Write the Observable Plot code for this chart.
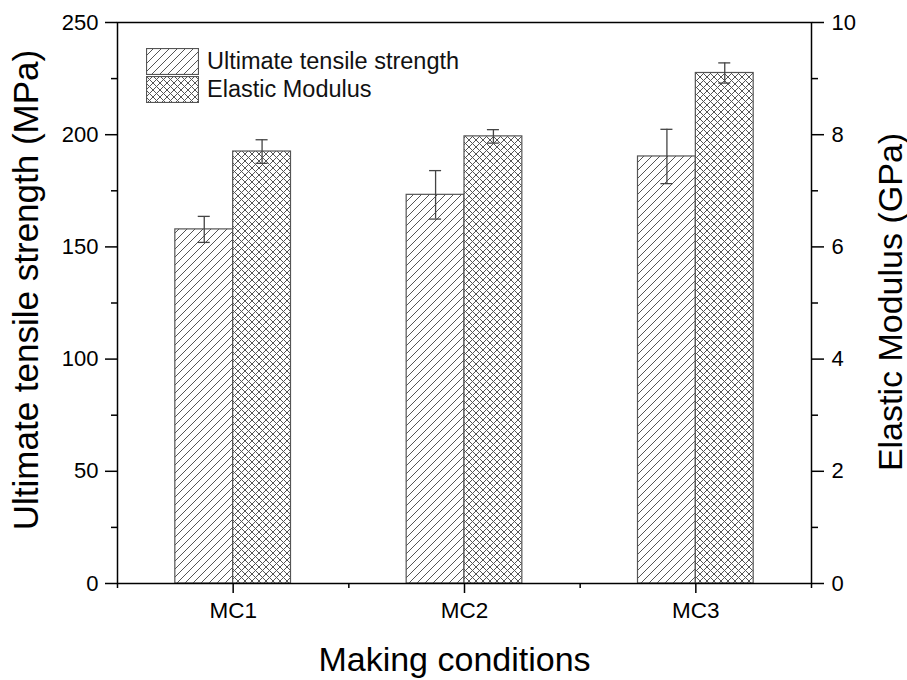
<!DOCTYPE html>
<html><head><meta charset="utf-8">
<script src="https://cdn.jsdelivr.net/npm/d3@7"></script>
<script src="https://cdn.jsdelivr.net/npm/@observablehq/plot@0.6"></script>
<style>
body{margin:0;background:#fff;}
#wrap{position:relative;width:907px;height:680px;font-family:Arial,"Liberation Sans",sans-serif;}
#legend{position:absolute;left:146px;top:47px;}
.item{display:flex;align-items:center;height:28px;}
.item svg{display:block}
.item span{font-size:23.5px;margin-left:8px;color:#111;}
</style></head><body><div id="wrap"><div id="legend"></div></div>
<script>
// ---- data ----
const categories = ["MC1", "MC2", "MC3"];
const utsMean = [157.8, 173.2, 190.3];   // MPa
const utsErr  = [5.8, 10.8, 12.1];
const emMean  = [7.70, 7.97, 9.10];      // GPa
const emErr   = [0.21, 0.12, 0.18];
const leftTicks  = [0, 50, 100, 150, 200, 250];
const leftMinor  = [25, 75, 125, 175, 225];
const rightTicks = [0, 2, 4, 6, 8, 10];
const rightMinor = [1, 3, 5, 7, 9];
const seriesNames = ["Ultimate tensile strength", "Elastic Modulus"];
const titles = {x: "Making conditions", yLeft: "Ultimate tensile strength (MPa)", yRight: "Elastic Modulus (GPa)"};

const K = 25; // MPa per GPa (250 / 10) shared scale
const rows = categories.map((c, i) => ({c, i, uts: utsMean[i], utsE: utsErr[i], em: emMean[i] * K, emE: emErr[i] * K}));
const cap = 0.026;
const font = 'Arial, "Liberation Sans", sans-serif';
const hatch = "#555";

const chart = Plot.plot({
  width: 907, height: 680,
  marginTop: 22, marginRight: 96, marginBottom: 97, marginLeft: 117,
  style: {fontFamily: font, background: "white", color: "black"},
  x: {domain: [0, 3]},
  y: {domain: [0, 250]},
  marks: [
    Plot.rect(rows, {x1: d => d.i + 0.25, x2: d => d.i + 0.5, y1: 0, y2: "uts", fill: "url(#hatchDiag)", stroke: "#555", strokeWidth: 1.2}),
    Plot.rect(rows, {x1: d => d.i + 0.5, x2: d => d.i + 0.75, y1: 0, y2: "em", fill: "url(#hatchCross)", stroke: "#555", strokeWidth: 1.2}),
    Plot.ruleX(rows, {x: d => d.i + 0.375, y1: d => d.uts - d.utsE, y2: d => d.uts + d.utsE, stroke: "#444", strokeWidth: 1.3}),
    Plot.ruleY(rows, {y: d => d.uts + d.utsE, x1: d => d.i + 0.375 - cap, x2: d => d.i + 0.375 + cap, stroke: "#444", strokeWidth: 1.3}),
    Plot.ruleY(rows, {y: d => d.uts - d.utsE, x1: d => d.i + 0.375 - cap, x2: d => d.i + 0.375 + cap, stroke: "#444", strokeWidth: 1.3}),
    Plot.ruleX(rows, {x: d => d.i + 0.625, y1: d => d.em - d.emE, y2: d => d.em + d.emE, stroke: "#444", strokeWidth: 1.3}),
    Plot.ruleY(rows, {y: d => d.em + d.emE, x1: d => d.i + 0.625 - cap, x2: d => d.i + 0.625 + cap, stroke: "#444", strokeWidth: 1.3}),
    Plot.ruleY(rows, {y: d => d.em - d.emE, x1: d => d.i + 0.625 - cap, x2: d => d.i + 0.625 + cap, stroke: "#444", strokeWidth: 1.3}),
    Plot.axisY({ticks: leftTicks, tickSize: 12, tickPadding: 7, fontSize: 22, strokeWidth: 1.5, label: null}),
    Plot.axisY({ticks: leftMinor, tickSize: 6, tickFormat: () => "", strokeWidth: 1.5, label: null}),
    Plot.axisY({anchor: "right", ticks: rightTicks.map(v => v * K), tickFormat: d => d / K, tickSize: 12, tickPadding: 8, fontSize: 22, strokeWidth: 1.5, label: null}),
    Plot.axisY({anchor: "right", ticks: rightMinor.map(v => v * K), tickSize: 6, tickFormat: () => "", strokeWidth: 1.5, label: null}),
    Plot.axisX({ticks: categories.map((c, i) => i + 0.5), tickFormat: v => categories[Math.floor(v)], tickSize: 10, tickPadding: 9, fontSize: 22.5, strokeWidth: 1.5, label: null}),
    Plot.axisX({ticks: [0, 1, 2, 3], tickSize: 5, tickFormat: () => "", strokeWidth: 1.5, label: null}),
    Plot.frame({stroke: "black", strokeWidth: 1.5}),
    Plot.text([titles.yLeft], {text: d => d, frameAnchor: "left", rotate: -90, dx: -80, dy: -13, lineAnchor: "bottom", textAnchor: "middle", fontSize: 35, fill: "black"}),
    Plot.text([titles.yRight], {text: d => d, frameAnchor: "right", rotate: -90, dx: 90, dy: -1, lineAnchor: "bottom", textAnchor: "middle", fontSize: 34, fill: "black"}),
    Plot.text([titles.x], {text: d => d, frameAnchor: "bottom", dx: -10, dy: 87, lineAnchor: "bottom", textAnchor: "middle", fontSize: 34, fill: "black"})
  ]
});

function addPatterns(svgSel) {
  const defs = svgSel.insert("defs", ":first-child");
  defs.append("pattern").attr("id", "hatchDiag").attr("patternUnits", "userSpaceOnUse").attr("width", 8).attr("height", 8)
    .append("path").attr("d", "M-2,2 L2,-2 M0,8 L8,0 M6,10 L10,6").attr("stroke", hatch).attr("stroke-width", 1).attr("fill", "none");
  const p = defs.append("pattern").attr("id", "hatchCross").attr("patternUnits", "userSpaceOnUse").attr("width", 7).attr("height", 7);
  p.append("rect").attr("width", 7).attr("height", 7).attr("fill", "white");
  p.append("path").attr("d", "M-1,1 L1,-1 M0,7 L7,0 M6,8 L8,6 M-1,6 L1,8 M0,0 L7,7 M6,-1 L8,1").attr("stroke", hatch).attr("stroke-width", 1).attr("fill", "none");
}
addPatterns(d3.select(chart));
document.getElementById("wrap").prepend(chart);

const legend = d3.select("#legend");
[["hatchDiag", seriesNames[0]], ["hatchCross", seriesNames[1]]].forEach(([pid, name]) => {
  const item = legend.append("div").attr("class", "item");
  const s = item.append("svg").attr("width", 53).attr("height", 27);
  s.append("rect").attr("x", 0.5).attr("y", 0.5).attr("width", 52).attr("height", 26).attr("fill", `url(#${pid})`).attr("stroke", "#555").attr("stroke-width", 1.2);
  item.append("span").text(name);
});
</script></body></html>
